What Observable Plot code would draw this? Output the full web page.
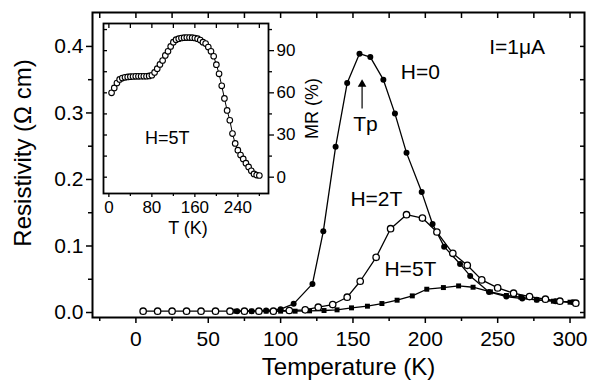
<!DOCTYPE html>
<html><head><meta charset="utf-8">
<script src="https://cdn.jsdelivr.net/npm/d3@7"></script>
<script src="https://cdn.jsdelivr.net/npm/@observablehq/plot@0.6"></script>
<style>
body{margin:0;background:#fff;}
#wrap{position:relative;width:589px;height:383px;}
#wrap svg{position:absolute;left:0;top:0;}
</style></head><body><div id="wrap"></div>
<script>
// Main panel: resistivity (Ω cm) vs temperature (K)
const T_H0 = [70, 80, 90, 100, 109, 122, 129.5, 138, 146, 154.5, 162, 171, 179, 187, 197.5, 205, 213, 224, 231, 244, 256, 267, 277, 290, 302];
const R_H0 = [0.002, 0.002, 0.003, 0.005, 0.013, 0.043, 0.122, 0.249, 0.345, 0.389, 0.384, 0.350, 0.299, 0.240, 0.181, 0.133, 0.099, 0.073, 0.055, 0.031, 0.024, 0.021, 0.019, 0.017, 0.0155];

const T_H2 = [5, 15, 25, 35, 45, 55, 65, 75, 85, 95, 106, 117, 126, 136, 146, 155, 166, 176, 187, 198, 208, 219, 229, 239, 250, 261, 272, 283, 293, 304];
const R_H2 = [0.002, 0.002, 0.002, 0.002, 0.002, 0.002, 0.002, 0.002, 0.002, 0.002, 0.003, 0.004, 0.008, 0.012, 0.023, 0.047, 0.083, 0.126, 0.147, 0.142, 0.121, 0.089, 0.071, 0.049, 0.037, 0.029, 0.024, 0.020, 0.017, 0.014];

const T_H5 = [69, 80, 90, 100, 110, 120, 130, 139, 149, 160, 170, 180.5, 191, 201, 212.5, 223, 233, 245, 256, 266, 277, 288.5, 300];
const R_H5 = [0.002, 0.002, 0.002, 0.002, 0.002, 0.0025, 0.003, 0.004, 0.007, 0.0095, 0.0135, 0.0185, 0.025, 0.035, 0.0375, 0.040, 0.038, 0.031, 0.0256, 0.023, 0.019, 0.017, 0.0155];

// Inset: MR (%) vs T (K) at H=5T
const T_inset = [5,10,15,20,25,30,35,40,45,50,55,60,65,70,75,80,85,90,95,100,105,110,115,120,125,130,135,140,145,150,155,160,165,170,175,180,185,190,195,200,205,210,215,220,225,230,235,240,245,250,255,260,265,270,275,280];
const MR_inset = [60,63.5,67,69.5,70.5,71,71.3,71.5,71.6,71.7,71.7,71.8,71.8,71.8,72,72.5,74.5,77.2,80.2,83,86.6,89.5,93,96,97.8,98.5,99,99.2,99.3,99.3,99.2,99,98.5,97.5,96,95,92.5,89.5,86,80,73.5,65,56,47.5,40.5,31,24,19.2,15.7,13,10,7.3,4.5,2.3,1.5,1.2];

// Tick values
const xMajor = [0, 50, 100, 150, 200, 250, 300];
const xMinor = [-25, 25, 75, 125, 175, 225, 275];
const xTop = [-25, 0, 25, 50, 75, 100, 125, 150, 175, 200, 225, 250, 275, 300];
const yMajor = [0, 0.1, 0.2, 0.3, 0.4];
const yMinor = [0.05, 0.15, 0.25, 0.35];
const yRight = [0, 0.05, 0.1, 0.15, 0.2, 0.25, 0.3, 0.35, 0.4];
const insetXMajor = [0, 80, 160, 240];
const insetXMinor = [40, 120, 200, 280];
const insetXTop = [0, 40, 80, 120, 160, 200, 240, 280];
const insetYAll = [0, 15, 30, 45, 60, 75, 90, 105];
const insetYMajor = [0, 30, 60, 90];
const insetYMinor = [15, 45, 75, 105];

// Annotations (label, T, R)
const annoLabels = ["H=0", "I=1μA", "Tp", "H=2T", "H=5T"];
const annoT = [196.6, 263.4, 158.6, 166.2, 189.7];
const annoR = [0.361, 0.398, 0.283, 0.170, 0.065];
const arrowT = 156.3, arrowFrom = 0.306, arrowTo = 0.343;

const zip = (xs, ys) => xs.map((x, i) => ({x, y: ys[i]}));
const d0 = zip(T_H0, R_H0), d2 = zip(T_H2, R_H2), d5 = zip(T_H5, R_H5), di = zip(T_inset, MR_inset);
const anno = annoLabels.map((t, i) => ({t, x: annoT[i], y: annoR[i]}));
const blank = () => "";
const font = "Liberation Sans, Arial, Helvetica, sans-serif";

const main = Plot.plot({
  width: 589, height: 383,
  marginLeft: 92, marginRight: 5, marginTop: 12, marginBottom: 66,
  style: {fontFamily: font, fontSize: "21px", color: "black", background: "white"},
  x: {domain: [-30, 310]},
  y: {domain: [-0.0075, 0.451]},
  marks: [
    Plot.axisX({ticks: xMajor, tickSize: 6, tickPadding: 8, strokeWidth: 1.5, tickFormat: d => d, label: null}),
    Plot.axisX({ticks: xMinor, tickSize: 4, strokeWidth: 1.5, tickFormat: blank, label: null}),
    Plot.axisX({anchor: "top", ticks: xTop, tickSize: -5, strokeWidth: 1.5, tickFormat: blank, label: null}),
    Plot.axisY({ticks: yMajor, tickSize: 6, tickPadding: 3, strokeWidth: 1.5, tickFormat: d3.format(".1f"), label: null}),
    Plot.axisY({ticks: yMinor, tickSize: 4, strokeWidth: 1.5, tickFormat: blank, label: null}),
    Plot.axisY({anchor: "right", ticks: yRight, tickSize: -5, strokeWidth: 1.5, tickFormat: blank, label: null}),
    Plot.line(d5, {x: "x", y: "y", stroke: "black", strokeWidth: 1.3}),
    Plot.line(d0, {x: "x", y: "y", stroke: "black", strokeWidth: 1.3}),
    Plot.line(d2, {x: "x", y: "y", stroke: "black", strokeWidth: 1.3}),
    Plot.dot(d5, {x: "x", y: "y", symbol: "square", r: 2.8, fill: "black", stroke: "none"}),
    Plot.dot(d0, {x: "x", y: "y", r: 3, fill: "black", stroke: "none"}),
    Plot.dot(d2, {x: "x", y: "y", r: 3.2, fill: "white", stroke: "black", strokeWidth: 1.3}),
    Plot.text(anno, {x: "x", y: "y", text: "t", fontSize: 21}),
    Plot.ruleX([arrowT], {y1: arrowFrom, y2: arrowTo, stroke: "black", strokeWidth: 1.2}),
    Plot.dot([arrowT], {x: d => d, y: () => arrowTo, symbol: "triangle", r: 3.2, fill: "black", stroke: "none"}),
    Plot.text(["Temperature (K)"], {text: d => d, frameAnchor: "bottom", textAnchor: "middle", lineAnchor: "middle", dx: 10, dy: 50, fontSize: 24}),
    Plot.text(["Resistivity (Ω cm)"], {text: d => d, frameAnchor: "left", textAnchor: "middle", lineAnchor: "middle", rotate: -90, dx: -69, dy: -12, fontSize: 24}),
    Plot.frame({stroke: "black", strokeWidth: 2})
  ]
});

const inset = Plot.plot({
  width: 589, height: 383,
  marginLeft: 103, marginRight: 321, marginTop: 23, marginBottom: 190,
  style: {fontFamily: font, fontSize: "17px", color: "black", background: "transparent"},
  x: {domain: [-10, 297]},
  y: {domain: [-11.6, 109.3]},
  marks: [
    Plot.frame({fill: "white"}),
    Plot.axisX({ticks: insetXMajor, tickSize: 4, tickPadding: 3, strokeWidth: 1.3, tickFormat: d => d, label: null}),
    Plot.axisX({ticks: insetXMinor, tickSize: 3, strokeWidth: 1.3, tickFormat: blank, label: null}),
    Plot.axisX({anchor: "top", ticks: insetXTop, tickSize: -4, strokeWidth: 1.3, tickFormat: blank, label: null}),
    Plot.axisY({anchor: "left", ticks: insetYAll, tickSize: -4, strokeWidth: 1.3, tickFormat: blank, label: null}),
    Plot.axisY({anchor: "right", ticks: insetYMajor, tickSize: 5, tickPadding: 3, strokeWidth: 1.3, tickFormat: d => d, label: null}),
    Plot.axisY({anchor: "right", ticks: insetYMinor, tickSize: 3, strokeWidth: 1.3, tickFormat: blank, label: null}),
    Plot.line(di, {x: "x", y: "y", stroke: "black", strokeWidth: 1}),
    Plot.dot(di, {x: "x", y: "y", r: 2.8, fill: "white", stroke: "black", strokeWidth: 1.1}),
    Plot.text(["H=5T"], {text: d => d, x: () => 108.8, y: () => 27.5, fontSize: 18}),
    Plot.text(["T (K)"], {text: d => d, frameAnchor: "bottom", textAnchor: "middle", lineAnchor: "middle", dx: 2, dy: 35, fontSize: 18}),
    Plot.text(["MR (%)"], {text: d => d, frameAnchor: "right", textAnchor: "middle", lineAnchor: "middle", rotate: -90, dx: 44, dy: 0, fontSize: 18}),
    Plot.frame({stroke: "black", strokeWidth: 1.8})
  ]
});

const wrap = document.getElementById("wrap");
wrap.appendChild(main);
wrap.appendChild(inset);
</script>
</body></html>
